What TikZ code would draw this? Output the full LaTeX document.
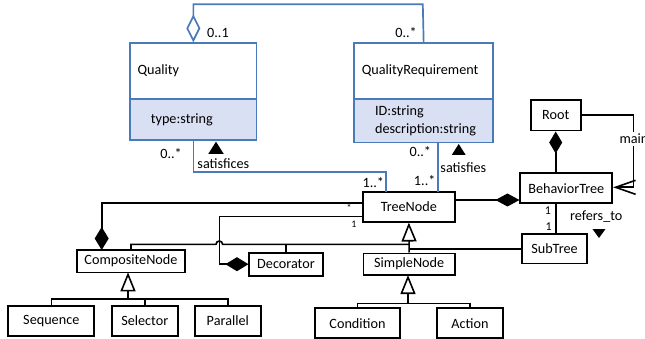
\documentclass[tikz,border=0pt]{standalone}
\usepackage{fontspec}
\setmainfont{Carlito}
\usetikzlibrary{arrows.meta}
\definecolor{umlblue}{RGB}{74,122,186}
\definecolor{umlfill}{RGB}{218,224,243}
\begin{document}
\begin{tikzpicture}[x=1pt,y=-1pt, font=\fontsize{14.2}{17}\selectfont,
 cls/.style={draw=black, line width=1.7pt, fill=white, inner sep=0pt, align=center},
 qcls/.style={draw=umlblue, line width=1.7pt, inner ysep=0pt, align=left, anchor=north west},
 conn/.style={draw=black, line width=1.6pt},
 bconn/.style={draw=umlblue, line width=1.7pt},
 lbl/.style={inner sep=0pt},
 smalllbl/.style={inner sep=0pt, font=\fontsize{10}{12}\selectfont},
 gen/.style={conn, -{Triangle[fill=white, length=19pt, width=15pt]}},
 comp/.style={conn, {Diamond[length=23pt, width=14pt]}-},
]
\useasboundingbox (0,0) rectangle (645,339);

% quality classes
\node[qcls, fill=white, text width=111.6pt, inner xsep=7.4pt, minimum height=56pt] (q) at (129.3,42.3) {Quality};
\node[qcls, fill=umlfill, text width=85pt, inner xsep=20.7pt, minimum height=41pt] (qa) at (129.3,98.3) {type:string};
\node[qcls, fill=white, text width=123.6pt, inner xsep=7.7pt, minimum height=56pt] (qr) at (353.3,42.3) {QualityRequirement};
\node[qcls, fill=umlfill, text width=97pt, inner xsep=21pt, minimum height=43.4pt, font=\fontsize{14.2}{18}\selectfont] (qra) at (353.3,98.3) {ID:string\\description:string};

% behaviour tree classes
\node[cls, minimum width=92.3pt, minimum height=30pt] (tn) at (408.85,206.7) {TreeNode};
\node[cls, minimum width=92pt, minimum height=30pt] (bt) at (566.3,188.3) {BehaviorTree};
\node[cls, minimum width=50pt, minimum height=30.7pt] (root) at (555.7,115.3) {Root};
\node[cls, minimum width=65.6pt, minimum height=29.3pt] (st) at (554.5,248.7) {SubTree};
\node[cls, minimum width=108.6pt, minimum height=22.3pt] (cn) at (131,261.2) {CompositeNode};
\node[cls, minimum width=73.4pt, minimum height=23pt] (dec) at (286,264.2) {Decorator};
\node[cls, minimum width=91.7pt, minimum height=21.7pt] (sn) at (409.2,264.2) {SimpleNode};
\node[cls, minimum width=86pt, minimum height=30pt] (seq) at (51.3,321) {Sequence};
\node[cls, minimum width=65.7pt, minimum height=30pt] (sel) at (144.8,321) {Selector};
\node[cls, minimum width=65.7pt, minimum height=30pt] (par) at (227.8,321) {Parallel};
\node[cls, minimum width=85pt, minimum height=30pt] (cond) at (357.5,323.3) {Condition};
\node[cls, minimum width=66.6pt, minimum height=30pt] (act) at (470,323.3) {Action};

% blue connectors
\draw[bconn, {Diamond[open, length=28pt, width=14pt]}-] (q.north) |- (422.8,4.3) -- (qr.north);
\draw[bconn] (qa.south) |- (385.7,172) -- (385.7,191.7);
\draw[bconn] (437.7,141.7) -- (437.7,191.7);

% blue labels
\node[lbl, anchor=west] (l01) at (207,33) {0..1};
\node[lbl, anchor=east] (l02) at (417,33) {0..*};
\node[lbl, anchor=east] (l03) at (182,153.5) {0..*};
\node[lbl] (l04) at (223.3,164) {satisfices};
\node[lbl] (l05) at (373.3,182.3) {1..*};
\node[lbl] (l06) at (424.7,181) {1..*};
\node[lbl] (l07) at (420.3,152) {0..*};
\node[lbl] (l08) at (463.3,167.7) {satisfies};
\fill (208.2,154) -- (216,141.7) -- (223.8,154) -- cycle;
\fill (451.7,155) -- (458.7,144) -- (465.7,155) -- cycle;

% compositions to TreeNode
\draw[comp] (101.7,250) |- (362.7,203.3);
\draw[comp] (dec.west) -| (219.3,216.7) -- (362.7,216.7);
\node[smalllbl] (l09) at (349,208) {*};
\node[smalllbl] (l10) at (354,224) {1};

% generalization to TreeNode
\draw[gen] (sn.north) -- (tn.south);
\draw[conn] (cn.north) |- (216.0,244.3) arc[start angle=180, end angle=0, radius=3.3pt] -- (408.85,244.3);
\draw[conn] (dec.north) -- (286,244.3);
\draw[conn] (st.west) -- (408.85,248.7);

% composite subclasses
\coordinate (cb) at (128,299);
\draw[conn] (seq.north) |- (cb) -| (par.north);
\draw[conn] (sel.north) -- (sel.north |- cb);
\draw[gen] (cb) -- (128,272.35);

% simple subclasses
\coordinate (sb) at (408,303.3);
\draw[conn] (cond.north) |- (sb) -| (act.north);
\draw[gen] (sb) -- (408,275.05);

% behaviour tree relations
\draw[conn, {Diamond[length=24pt, width=13pt]}-] (bt.west |- 0,200) -- (tn.east |- 0,200);
\draw[conn, {Diamond[length=22pt, width=13pt]}-] (root.south) -- (root.south |- bt.north);
\draw[conn] (556,203.3) -- (556,234);
\node[lbl, font=\fontsize{12}{14}\selectfont] (l11) at (548,211) {1};
\node[lbl, font=\fontsize{12}{14}\selectfont] (l12) at (548.7,226.7) {1};
\node[lbl] (l13) at (596.3,217) {refers\_to};
\fill (592.5,229) -- (605.5,229) -- (599,238) -- cycle;

\draw[conn, -{Straight Barb[length=20pt, width=14pt]}] (root.east) -| (633.3,187.3) -- (bt.east |- 0,187.3);
\node[lbl, anchor=west, fill=white, inner ysep=2pt] (l14) at (619.3,139) {main};
\end{tikzpicture}
\end{document}
